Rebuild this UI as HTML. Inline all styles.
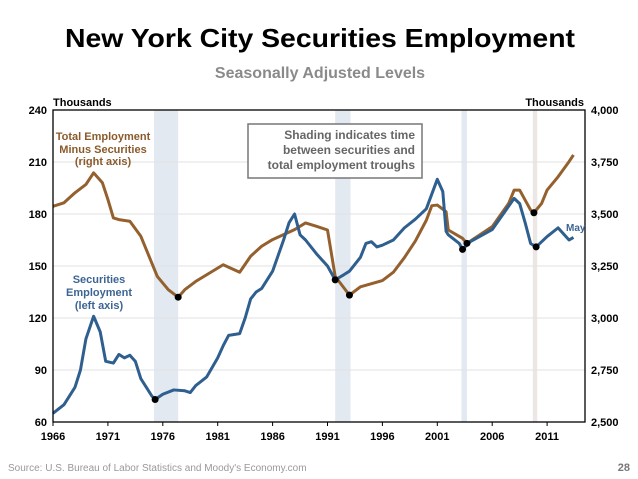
<!DOCTYPE html>
<html><head><meta charset="utf-8"><style>
body{margin:0;background:#fff;}
svg{display:block;font-family:"Liberation Sans",Arial,sans-serif;}
</style></head><body>
<svg id="chart" width="638" height="479" viewBox="0 0 638 479">
<text x="320" y="47" text-anchor="middle" font-size="26" font-weight="bold" fill="#000" textLength="510" lengthAdjust="spacingAndGlyphs">New York City Securities Employment</text>
<text x="320" y="78" text-anchor="middle" font-size="16" font-weight="bold" fill="#8a8a8a">Seasonally Adjusted Levels</text>
<g id="shading"></g>
<g id="grid"></g>
<g id="series"></g>
<g id="axes"></g>
<rect x="248" y="124" width="174" height="54" fill="#fff" stroke="#777" stroke-width="1.5"/>
<g font-size="12" font-weight="bold" fill="#666" text-anchor="end">
<text x="415" y="139">Shading indicates time</text>
<text x="415" y="154">between securities and</text>
<text x="415" y="169">total employment troughs</text>
</g>
<g font-size="11" font-weight="bold" fill="#8b5a2b" text-anchor="middle">
<text x="103" y="140">Total Employment</text>
<text x="103" y="153">Minus Securities</text>
<text x="103" y="165">(right axis)</text>
</g>
<g font-size="11" font-weight="bold" fill="#3d6594" text-anchor="middle">
<text x="99" y="283">Securities</text>
<text x="99" y="296">Employment</text>
<text x="99" y="309">(left axis)</text>
</g>
<text x="566" y="231" font-size="10" font-weight="bold" fill="#3d6594">May</text>
<text x="53" y="106" font-size="11" font-weight="bold">Thousands</text>
<text x="584" y="106" font-size="11" font-weight="bold" text-anchor="end">Thousands</text>
<text x="8" y="471" font-size="10" fill="#999">Source: U.S. Bureau of Labor Statistics and Moody's Economy.com</text>
<text x="630" y="471" font-size="11" font-weight="bold" fill="#777" text-anchor="end">28</text>
</svg>
<script>
const secYears=[1966,1967,1968,1968.5,1969,1969.7,1970.3,1970.8,1971.5,1972,1972.5,1973,1973.5,1974,1974.5,1975,1975.3,1976,1977,1978,1978.5,1979,1980,1981,1981.5,1982,1983,1983.5,1984,1984.5,1985,1986,1987,1987.5,1988,1988.5,1989,1990,1991,1991.7,1992.5,1993,1994,1994.5,1995,1995.5,1996,1997,1998,1999,2000,2001,2001.5,2001.8,2002,2003,2003.3,2004,2006,2008,2008.5,2009,2009.5,2010,2011,2012,2013,2013.4];
const secValues=[65,70,80,90,108,121,112,95,94,99,97,98.5,95,85,80,75,73,76,78.5,78,77,81,86,97,104,110,111,120,131,135,137,147,165,175,180,168,165,157,150,142,145,147,155,163,164,161,162,165,172,177,183,200,193,170,168,163,159.6,164,171,189,186,175,163,161,167,172,165,166.5];
const totYears=[1966,1967,1968,1969,1969.7,1970.5,1971,1971.5,1972,1973,1974,1975,1975.5,1976.5,1977.4,1978,1979,1980,1981.5,1982.5,1983,1984,1985,1986,1987,1988,1989,1990,1991,1991.7,1993,1994,1996,1997,1998,1999,2000,2000.5,2001,2001.8,2002,2003.3,2003.7,2006,2007.5,2008,2008.5,2009.5,2009.8,2010.5,2011,2012,2013,2013.4];
const totValues=[3537,3554,3602,3642,3698,3650,3570,3481,3473,3465,3393,3264,3200,3136,3100,3136,3176,3208,3256,3232,3220,3297,3345,3377,3401,3425,3457,3441,3423,3200,3110,3150,3180,3220,3290,3370,3470,3540,3543,3511,3423,3383,3359,3439,3551,3615,3615,3519,3506,3551,3615,3679,3752,3784];
const secTroughs=[1975.3,1991.7,2003.3,2010];
const secTroughVals=[73,142,159.6,161];
const totTroughs=[1977.4,1993,2003.7,2009.8];
const totTroughVals=[3100,3110,3359,3506];
const shadeStart=[1975.2,1991.7,2003.2,2009.7];
const shadeEnd=[1977.4,1993.1,2003.7,2010.1];
const shadeColors=["#e3e9f1","#e3e9f1","#e3e9f1","#ece6e4"];
const leftTicks=[60,90,120,150,180,210,240];
const rightTicks=[2500,2750,3000,3250,3500,3750,4000];
const xTicks=[1966,1971,1976,1981,1986,1991,1996,2001,2006,2011];

const X0=53,X1=585,Y0=110,Y1=422;
const xs=y=>X0+(y-1966)*10.98;
const yl=v=>Y1-(v-60)/180*(Y1-Y0);
const yr=v=>Y1-(v-2500)/1500*(Y1-Y0);
const NS="http://www.w3.org/2000/svg";
function mk(tag,parent,attrs){const e=document.createElementNS(NS,tag);for(const k in attrs)e.setAttribute(k,attrs[k]);document.getElementById(parent).appendChild(e);return e;}

shadeStart.forEach((s,i)=>{
 const r=mk('rect','shading',{x:xs(s),y:Y0,width:xs(shadeEnd[i])-xs(s),height:Y1-Y0,fill:shadeColors[i]});
 
 
});
leftTicks.forEach(v=>{
 if(v>60&&v<240){const l=mk('line','grid',{x1:X0,x2:X1,y1:yl(v),y2:yl(v),stroke:'#e2e2e2','stroke-width':1});
 
 }
 const t=mk('text','axes',{x:X0-6,y:yl(v)+4,'font-size':11,'font-weight':'bold','text-anchor':'end'});t.textContent=v;
 
 
});
rightTicks.forEach(v=>{
 const t=mk('text','axes',{x:X1+6,y:yr(v)+4,'font-size':11,'font-weight':'bold'});t.textContent=v.toLocaleString('en-US');
 
 
});
xTicks.forEach(v=>{
 const t=mk('text','axes',{x:xs(v),y:440,'font-size':11,'font-weight':'bold','text-anchor':'middle'});t.textContent=v;
 
 
 const k=mk('line','axes',{x1:xs(v),x2:xs(v),y1:Y1,y2:Y1+4,stroke:'#000'});
 
 
});
const frame=mk('rect','axes',{x:X0,y:Y0,width:X1-X0,height:Y1-Y0,fill:'none',stroke:'#000','stroke-width':1.3});



const tp=mk('polyline','series',{points:totYears.map((y,i)=>xs(y)+','+yr(totValues[i])).join(' '),fill:'none',stroke:'#94602e','stroke-width':3,'stroke-linejoin':'round'});


const sp=mk('polyline','series',{points:secYears.map((y,i)=>xs(y)+','+yl(secValues[i])).join(' '),fill:'none',stroke:'#2f5f8f','stroke-width':3,'stroke-linejoin':'round'});


secTroughs.forEach((y,i)=>{const c=mk('circle','series',{cx:xs(y),cy:yl(secTroughVals[i]),r:3.5,fill:'#000'});
 
 });
totTroughs.forEach((y,i)=>{const c=mk('circle','series',{cx:xs(y),cy:yr(totTroughVals[i]),r:3.5,fill:'#000'});
 
 });
</script>
</body></html>
